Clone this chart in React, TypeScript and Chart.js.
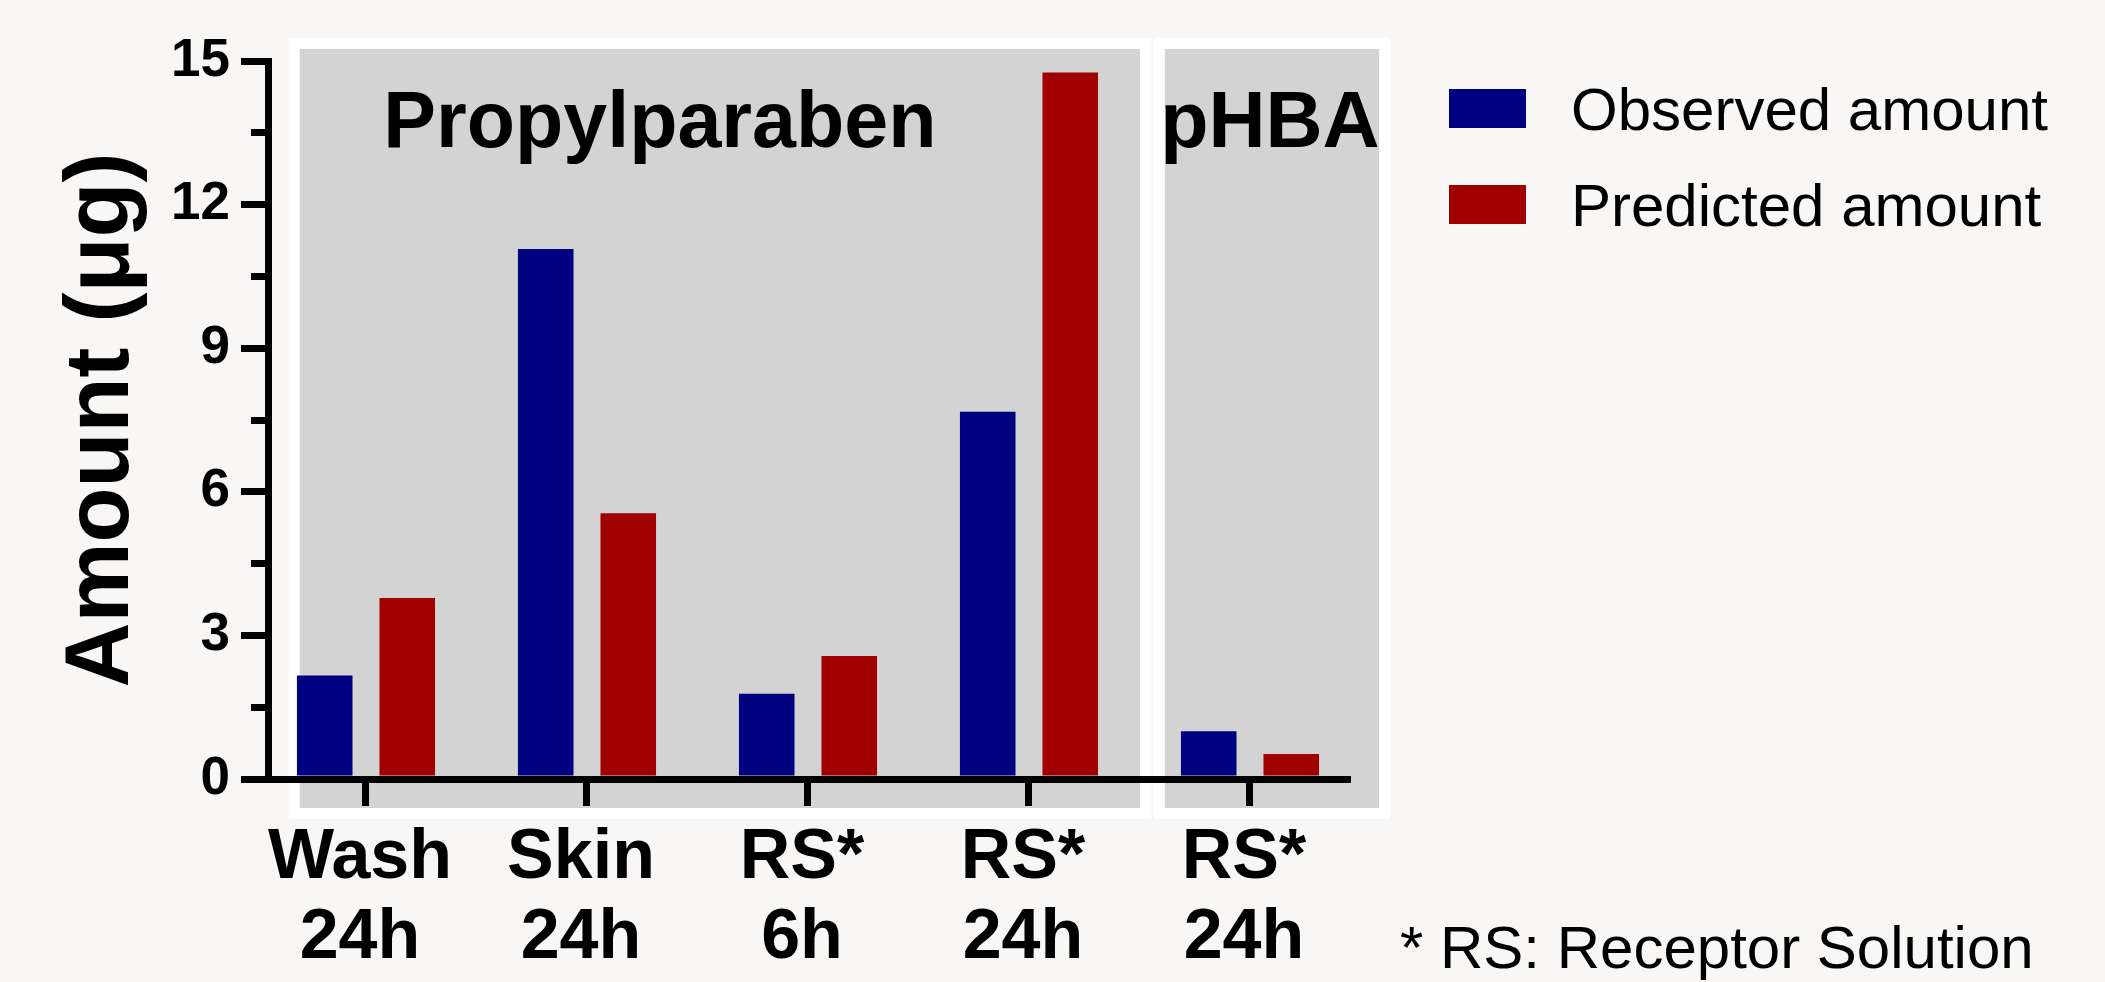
import React, { useEffect, useRef } from 'react';
import { Chart, registerables } from 'chart.js';

Chart.register(...registerables);

// ---------- data ----------
const categories: string[][] = [
  ['Wash', '24h'],
  ['Skin', '24h'],
  ['RS*', '6h'],
  ['RS*', '24h'],
  ['RS*', '24h'],
];
const observedAmount = [2.16, 11.07, 1.78, 7.67, 1.0];
const predictedAmount = [3.78, 5.55, 2.57, 14.76, 0.52];
const seriesNames = ['Observed amount', 'Predicted amount'];
const yTickValues = [0, 3, 6, 9, 12, 15];
const groupNames = ['Propylparaben', 'pHBA'];
const yTitleText = 'Amount (μg)';
const footnoteText = '* RS: Receptor Solution';

// ---------- layout / style ----------
const FONT = "'Liberation Sans', Arial, Helvetica, sans-serif";
const BG = '#f8f7f5';
const BLUE = '#000080';
const RED = '#a00000';
const PANEL_GRAY = '#d3d3d3';
const PANEL_BORDER = 11;
// panels in data units (x: category index, y: value)
const PANELS = [
  { from: -0.3, to: 3.502, labelX: 1.33 },
  { from: 3.615, to: 4.584, labelX: 4.09 },
];
const PANEL_TOP = 15.25;
const PANEL_BOTTOM = -0.606;
const LABEL_Y = 13.2;

const minorTicks = yTickValues.slice(1).map((v, i) => (v + yTickValues[i]) / 2);

const decorPlugin = {
  id: 'decor',
  beforeDraw(chart: any) {
    const { ctx } = chart;
    const x = chart.scales.x;
    const y = chart.scales.y;
    ctx.save();
    PANELS.forEach((p) => {
      const l = x.getPixelForValue(p.from);
      const r = x.getPixelForValue(p.to);
      const t = y.getPixelForValue(PANEL_TOP);
      const b = y.getPixelForValue(PANEL_BOTTOM);
      ctx.fillStyle = '#ffffff';
      ctx.fillRect(l - PANEL_BORDER, t - PANEL_BORDER, r - l + 2 * PANEL_BORDER, b - t + 2 * PANEL_BORDER);
      ctx.fillStyle = PANEL_GRAY;
      ctx.fillRect(l, t, r - l, b - t);
    });
    ctx.restore();
  },
  afterDraw(chart: any) {
    const { ctx, chartArea } = chart;
    const x = chart.scales.x;
    const y = chart.scales.y;
    ctx.save();
    // group labels
    ctx.fillStyle = '#000';
    ctx.font = `bold 79px ${FONT}`;
    ctx.textAlign = 'center';
    ctx.textBaseline = 'alphabetic';
    PANELS.forEach((p, i) => {
      ctx.fillText(groupNames[i], x.getPixelForValue(p.labelX), y.getPixelForValue(LABEL_Y));
    });
    // legend
    const boxLeft = chartArea.right + 102;
    const boxW = 77;
    const boxH = 39;
    const rowGap = 96;
    const firstTop = chartArea.top + 28;
    ctx.font = `60px ${FONT}`;
    ctx.textAlign = 'left';
    chart.data.datasets.forEach((ds: any, i: number) => {
      const top = firstTop + i * rowGap;
      ctx.fillStyle = ds.backgroundColor;
      ctx.fillRect(boxLeft, top, boxW, boxH);
      ctx.fillStyle = '#000';
      ctx.fillText(ds.label, boxLeft + 122, top + boxH / 2 + 21);
    });
    // footnote
    ctx.fillText(footnoteText, chartArea.right + 53, chart.height - 14);
    ctx.restore();
  },
};

export default function App() {
  const ref = useRef<HTMLCanvasElement>(null);

  useEffect(() => {
    if (!ref.current) return;
    const chart = new Chart(ref.current, {
      type: 'bar',
      data: {
        datasets: [
          {
            label: seriesNames[0],
            data: observedAmount.map((v, i) => ({ x: i, y: v })),
            backgroundColor: BLUE,
            borderWidth: 0,
          },
          {
            label: seriesNames[1],
            data: predictedAmount.map((v, i) => ({ x: i, y: v })),
            backgroundColor: RED,
            borderWidth: 0,
          },
        ],
      },
      options: {
        responsive: false,
        animation: false,
        events: [],
        categoryPercentage: 0.747,
        barPercentage: 0.673,
        layout: { padding: { left: 0, top: 61, right: 758, bottom: 0 } },
        plugins: {
          legend: { display: false },
          tooltip: { enabled: false },
          title: { display: false },
        },
        scales: {
          x: {
            type: 'linear',
            position: 'bottom',
            min: -0.4434,
            max: 4.439,
            offset: false,
            z: 1,
            afterBuildTicks: (s: any) => {
              s.ticks = categories.map((_, i) => ({ value: i }));
            },
            afterFit: (s: any) => {
              s.height = 203;
            },
            ticks: {
              callback: (_v: any, i: number) => categories[i] ?? '',
              font: { family: FONT, size: 70, weight: 'bold', lineHeight: 1.143 },
              color: '#000',
              padding: 13,
              labelOffset: -6,
              maxRotation: 0,
              minRotation: 0,
              autoSkip: false,
            },
            grid: {
              offset: false,
              drawOnChartArea: false,
              tickLength: 27,
              lineWidth: 7,
              color: '#000',
              tickColor: '#000',
            },
            border: { display: true, width: 7, color: '#000' },
          },
          y: {
            type: 'linear',
            position: 'left',
            min: 0,
            max: 15,
            weight: 0,
            z: 1,
            afterBuildTicks: (s: any) => {
              s.ticks = yTickValues.map((v) => ({ value: v }));
            },
            afterFit: (s: any) => {
              s.width = 268;
            },
            ticks: {
              font: { family: FONT, size: 53, weight: 'bold' },
              color: '#000',
              padding: 11,
            },
            grid: {
              drawOnChartArea: false,
              tickLength: 27,
              lineWidth: 7,
              color: '#000',
              tickColor: '#000',
            },
            border: { display: true, width: 7, color: '#000' },
            title: {
              display: true,
              text: yTitleText,
              color: '#000',
              font: { family: FONT, size: 90, weight: 'bold', lineHeight: 1.2 },
              padding: { top: 49, bottom: 0 },
            },
          },
          yMinor: {
            type: 'linear',
            position: 'left',
            min: 0,
            max: 15,
            weight: -1,
            z: 1,
            afterBuildTicks: (s: any) => {
              s.ticks = minorTicks.map((v) => ({ value: v }));
            },
            afterFit: (s: any) => {
              s.width = 0;
            },
            ticks: { display: false },
            grid: {
              drawOnChartArea: false,
              tickLength: 17,
              lineWidth: 7,
              color: '#000',
              tickColor: '#000',
            },
            border: { display: false },
          },
        },
      } as any,
      plugins: [decorPlugin],
    });
    return () => chart.destroy();
  }, []);

  return (
    <div
      style={{
        position: 'fixed',
        left: 0,
        top: 0,
        width: 2105,
        height: 982,
        background: BG,
        overflow: 'hidden',
      }}
    >
      <canvas ref={ref} width={2105} height={982} style={{ display: 'block', width: 2105, height: 982 }} />
    </div>
  );
}
